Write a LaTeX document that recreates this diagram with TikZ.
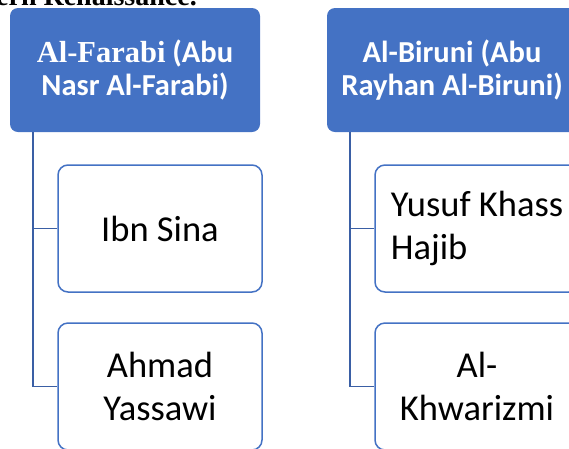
\documentclass[tikz,border=0pt]{standalone}
\usepackage{fontspec}
\setmainfont{Carlito}
\newfontfamily\timesfont{Liberation Serif}
\definecolor{officeblue}{HTML}{4472C4}
\definecolor{linkblue}{HTML}{3A5FA5}
\begin{document}
\begin{tikzpicture}[x=1pt,y=-1pt,
  parent/.style={fill=officeblue,rounded corners=8pt,minimum width=250pt,minimum height=124pt,
    text=white,align=center,font=\bfseries\fontsize{30.5}{33}\selectfont},
  child/.style={draw=officeblue,line width=1.5pt,fill=white,rounded corners=10pt,
    minimum width=204pt,minimum height=127pt,align=center,font=\fontsize{36.5}{43}\selectfont},
  link/.style={draw=linkblue,line width=1.8pt}]
\useasboundingbox (0,0) rectangle (569,448);
\clip (0,0) rectangle (569,448);
\node[anchor=base east,inner sep=0pt,font=\timesfont\bfseries\fontsize{28}{32}\selectfont] (head) at (197,5) {ern Renaissance.};
% left column
\node[parent] (farabi) at (135,70) {{\timesfont Al-Farabi} (Abu\\Nasr Al-Farabi)};
\node[child] (sina) at (160,228.5) {Ibn Sina};
\node[child] (yassawi) at (160,386.5) {Ahmad\\Yassawi};
% right column
\node[parent] (biruni) at (452,70) {Al-Biruni (Abu\\Rayhan Al-Biruni)};
\node[child,align=left] (hajib) at (477,228.5) {Yusuf Khass\\Hajib};
\node[child] (khwarizmi) at (477,386.5) {Al-\\Khwarizmi};
\draw[link] ([xshift=23pt]farabi.south west) |- (sina.west);
\draw[link] ([xshift=23pt]farabi.south west) |- (yassawi.west);
\draw[link] ([xshift=23pt]biruni.south west) |- (hajib.west);
\draw[link] ([xshift=23pt]biruni.south west) |- (khwarizmi.west);
\end{tikzpicture}
\end{document}
